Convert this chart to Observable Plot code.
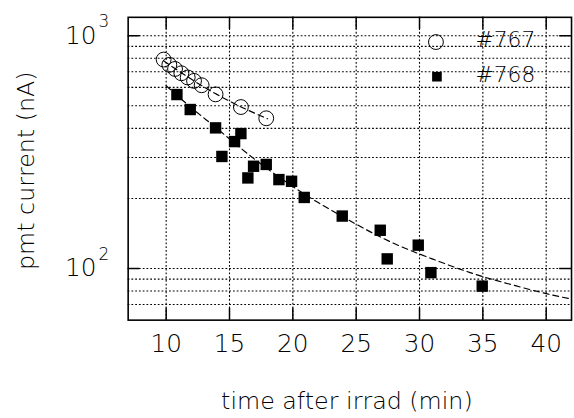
<!DOCTYPE html>
<html>
<head>
<meta charset="utf-8">
<script src="https://cdn.jsdelivr.net/npm/d3@7"></script>
<script src="https://cdn.jsdelivr.net/npm/@observablehq/plot@0.6"></script>
<style>
  html, body { margin: 0; padding: 0; background: #fff; overflow: hidden; }
  #chart { width: 574px; height: 418px; overflow: hidden; }
</style>
</head>
<body>
<div id="chart"></div>
<script>
// ---- data ----
const t767 = [9.8, 10.25, 10.7, 11.2, 11.7, 12.2, 12.8, 13.9, 15.9, 17.9];
const v767 = [790, 750, 720, 690, 662, 640, 613, 560, 494, 442];

const t768 = [10.85, 11.9, 13.9, 14.4, 15.4, 15.9, 16.45, 16.9, 17.9, 18.9, 19.9, 20.9, 23.9, 26.9, 27.45, 29.9, 30.9, 34.95];
const v768 = [559, 482, 402, 303, 351, 380, 245, 275, 280, 241, 237, 202, 168, 146, 110, 126, 96, 84];

const fit767T = [9.8, 12, 14, 16, 18];
const fit767V = [780, 650, 560, 492, 440];

const fit768T = [10, 12, 14, 16, 18, 20, 22, 25, 28, 31, 34, 37, 40, 42];
const fit768V = [610, 490, 400, 325, 268, 225, 192, 155, 128, 110, 96, 86, 78, 74];

const xTicks = [10, 15, 20, 25, 30, 35, 40];
const yGrid = [70, 80, 90, 100, 200, 300, 400, 500, 600, 700, 800, 900, 1000];
const yMajor = [100, 1000];
const yExp = ["2", "3"];
const seriesNames = ["#767", "#768"];
const xTitle = "time after irrad (min)";
const yTitle = "pmt current (nA)";

const FONT = "'DejaVu Sans', sans-serif";
const frameW = 448, frameH = 306, tickLen = 12;

const chart = Plot.plot({
  width: 580,
  height: 418,
  marginLeft: 129,
  marginRight: 3,
  marginTop: 17,
  marginBottom: 95,
  x: { type: "linear", domain: [7, 42], axis: null },
  y: { type: "log", domain: [60, 1200], axis: null },
  style: { fontFamily: FONT, fontWeight: 200, background: "#fff", color: "#000" },
  marks: [
    // dotted grid
    Plot.ruleX(xTicks, { x: d => d, stroke: "#000", strokeWidth: 1.1, strokeDasharray: "1.8,2" }),
    Plot.ruleY(yGrid, { y: d => d, stroke: "#000", strokeWidth: 1.1, strokeDasharray: "1.8,2" }),
    // fit curves
    Plot.line(fit767V, { x: fit767T, y: fit767V, curve: "natural", stroke: "#000", strokeWidth: 1.2, strokeDasharray: "6,4", clip: true }),
    Plot.line(fit768V, { x: fit768T, y: fit768V, curve: "natural", stroke: "#000", strokeWidth: 1.2, strokeDasharray: "6,4", clip: true }),
    // data
    Plot.dot(v767, { x: t767, y: v767, r: 7.5, stroke: "#000", strokeWidth: 1, fill: "none" }),
    Plot.dot(v768, { x: t768, y: v768, symbol: "square", r: 6.5, fill: "#000", stroke: "none" }),
    // frame and inward ticks
    Plot.frame({ stroke: "#000", strokeWidth: 1.6 }),
    Plot.ruleX(xTicks, { x: d => d, insetTop: frameH - tickLen, stroke: "#000", strokeWidth: 1.5 }),
    Plot.ruleX(xTicks, { x: d => d, insetBottom: frameH - tickLen, stroke: "#000", strokeWidth: 1.5 }),
    Plot.ruleY(yMajor, { y: d => d, insetRight: frameW - tickLen, stroke: "#000", strokeWidth: 1.5 }),
    Plot.ruleY(yMajor, { y: d => d, insetLeft: frameW - tickLen, stroke: "#000", strokeWidth: 1.5 }),
    // tick labels
    Plot.text(xTicks, { x: d => d, text: d => String(d), frameAnchor: "bottom", lineAnchor: "top", textAnchor: "middle", dy: 14, fontSize: 25, fill: "#000" }),
    Plot.text(yMajor, { y: d => d, text: () => "10", frameAnchor: "left", lineAnchor: "middle", textAnchor: "end", dx: -32, fontSize: 25, fill: "#000" }),
    Plot.text(yMajor, { y: d => d, text: (d, i) => yExp[i], frameAnchor: "left", lineAnchor: "middle", textAnchor: "start", dx: -30, dy: -14, fontSize: 17, fill: "#000" }),
    // axis titles
    Plot.text([xTitle], { text: d => d, frameAnchor: "bottom", lineAnchor: "middle", textAnchor: "middle", dx: -3, dy: 82, fontSize: 24, fill: "#000" }),
    Plot.text([yTitle], { text: d => d, frameAnchor: "left", lineAnchor: "middle", textAnchor: "middle", rotate: -90, dx: -103, dy: 2, fontSize: 24, fill: "#000" }),
    // legend
    Plot.dot([0], { frameAnchor: "top-left", dx: 311, dy: 25, r: 7.5, stroke: "#000", strokeWidth: 1, fill: "none" }),
    Plot.dot([0], { frameAnchor: "top-left", dx: 312, dy: 60, symbol: "square", r: 5.5, fill: "#000" }),
    Plot.text([seriesNames[0]], { text: d => d, frameAnchor: "top-left", lineAnchor: "middle", textAnchor: "start", dx: 351, dy: 23, fontSize: 22, fill: "#000" }),
    Plot.text([seriesNames[1]], { text: d => d, frameAnchor: "top-left", lineAnchor: "middle", textAnchor: "start", dx: 351, dy: 58, fontSize: 22, fill: "#000" })
  ]
});
document.getElementById("chart").appendChild(chart);
</script>
</body>
</html>
